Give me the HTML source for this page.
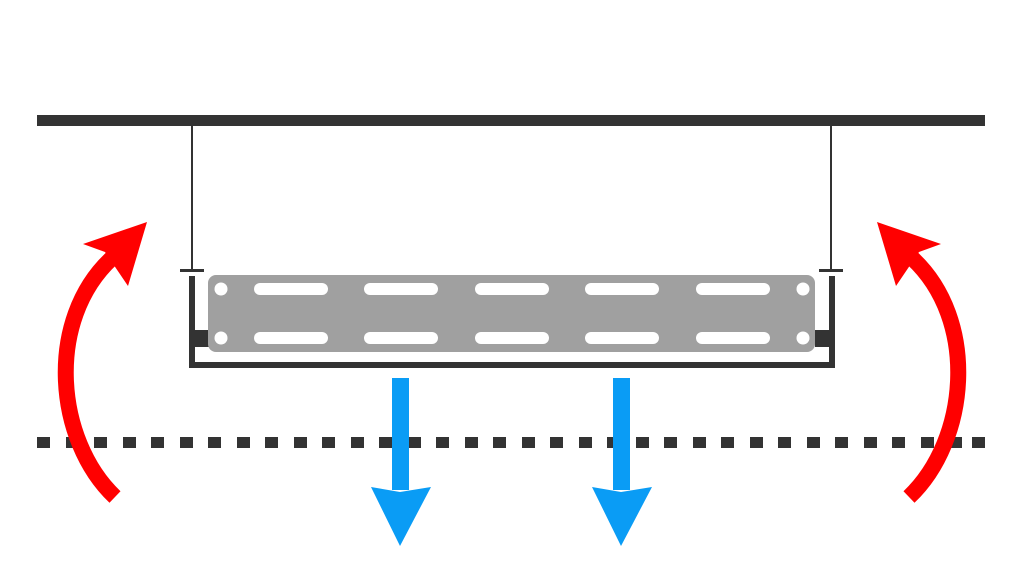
<!DOCTYPE html>
<html><head><style>body{margin:0;background:#fff}</style></head><body>
<svg width="1024" height="576" viewBox="0 0 1024 576" xmlns="http://www.w3.org/2000/svg">
<rect width="1024" height="576" fill="#fff"/>
<rect x="37" y="115" width="948" height="11" fill="#333"/>
<g fill="#333">
<rect x="37" y="437" width="13" height="11"/><rect x="66" y="437" width="13" height="11"/><rect x="94" y="437" width="13" height="11"/><rect x="123" y="437" width="13" height="11"/><rect x="151" y="437" width="13" height="11"/><rect x="180" y="437" width="13" height="11"/><rect x="208" y="437" width="13" height="11"/><rect x="237" y="437" width="13" height="11"/><rect x="265" y="437" width="13" height="11"/><rect x="294" y="437" width="13" height="11"/><rect x="322" y="437" width="13" height="11"/><rect x="351" y="437" width="13" height="11"/><rect x="379" y="437" width="13" height="11"/><rect x="408" y="437" width="13" height="11"/><rect x="436" y="437" width="13" height="11"/><rect x="465" y="437" width="13" height="11"/><rect x="493" y="437" width="13" height="11"/><rect x="522" y="437" width="13" height="11"/><rect x="550" y="437" width="13" height="11"/><rect x="579" y="437" width="13" height="11"/><rect x="607" y="437" width="13" height="11"/><rect x="636" y="437" width="13" height="11"/><rect x="664" y="437" width="13" height="11"/><rect x="693" y="437" width="13" height="11"/><rect x="721" y="437" width="13" height="11"/><rect x="750" y="437" width="13" height="11"/><rect x="778" y="437" width="13" height="11"/><rect x="807" y="437" width="13" height="11"/><rect x="835" y="437" width="13" height="11"/><rect x="864" y="437" width="13" height="11"/><rect x="892" y="437" width="13" height="11"/><rect x="921" y="437" width="13" height="11"/><rect x="949" y="437" width="13" height="11"/><rect x="972" y="437" width="13" height="11"/>
</g>
<line x1="192" y1="126" x2="192" y2="270" stroke="#333" stroke-width="2"/>
<line x1="831" y1="126" x2="831" y2="270" stroke="#333" stroke-width="2"/>
<rect x="180" y="269" width="24" height="3" fill="#333"/>
<rect x="819" y="269" width="24" height="3" fill="#333"/>
<rect x="189" y="276" width="6" height="92" fill="#333"/>
<rect x="829" y="276" width="6" height="92" fill="#333"/>
<rect x="189" y="362" width="646" height="6" fill="#333"/>
<rect x="193" y="330" width="16" height="17" fill="#333"/>
<rect x="815" y="330" width="16" height="17" fill="#333"/>
<rect x="208" y="275" width="607" height="77" rx="8" fill="#a0a0a0"/>
<g fill="#fff">
<circle cx="221" cy="289" r="6.5"/><circle cx="221" cy="338" r="6.5"/>
<circle cx="803" cy="289" r="6.5"/><circle cx="803" cy="338" r="6.5"/>
<rect x="254" y="283" width="74" height="12" rx="6"/><rect x="364" y="283" width="74" height="12" rx="6"/><rect x="475" y="283" width="74" height="12" rx="6"/><rect x="585" y="283" width="74" height="12" rx="6"/><rect x="696" y="283" width="74" height="12" rx="6"/>
<rect x="254" y="332" width="74" height="12" rx="6"/><rect x="364" y="332" width="74" height="12" rx="6"/><rect x="475" y="332" width="74" height="12" rx="6"/><rect x="585" y="332" width="74" height="12" rx="6"/><rect x="696" y="332" width="74" height="12" rx="6"/>
</g>
<g fill="#0a9cf5">
<rect x="392" y="378" width="17" height="112"/>
<polygon points="371,487 400,492 431,487 400,546"/>
<rect x="613" y="378" width="17" height="112"/>
<polygon points="592,487 621,492 652,487 621,546"/>
</g>
<g>
<path d="M115,497 C55,440 45,320 112,258" fill="none" stroke="#f00" stroke-width="16"/>
<polygon points="147,222 83,244 105,252 128,286" fill="#f00"/>
<path d="M909,497 C969,440 979,320 912,258" fill="none" stroke="#f00" stroke-width="16"/>
<polygon points="877,222 941,244 919,252 896,286" fill="#f00"/>
</g>
</svg>
</body></html>
